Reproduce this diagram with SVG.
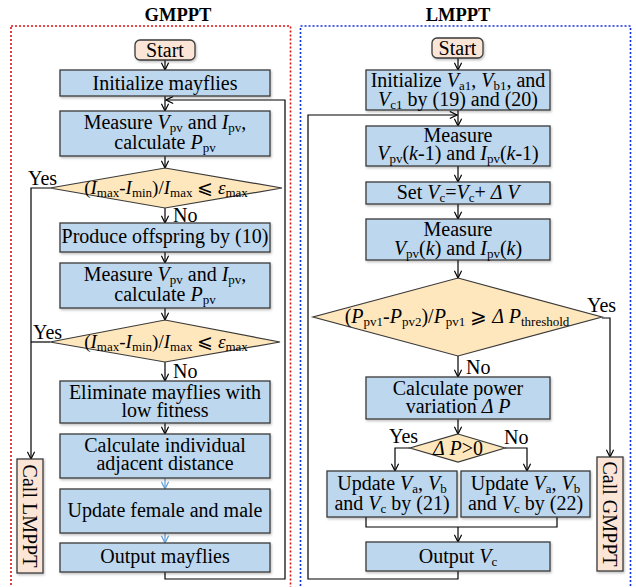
<svg xmlns="http://www.w3.org/2000/svg" width="636" height="587" viewBox="0 0 636 587">
<defs>
<marker id="arr" viewBox="0 0 10 10" refX="9" refY="5" markerWidth="9" markerHeight="9" markerUnits="userSpaceOnUse" orient="auto">
<path d="M1,1 L9,5 L1,9" fill="none" stroke="#000" stroke-width="1.3"/>
</marker>
<marker id="arrb" viewBox="0 0 10 10" refX="9" refY="5" markerWidth="9" markerHeight="9" markerUnits="userSpaceOnUse" orient="auto">
<path d="M1,1 L9,5 L1,9" fill="none" stroke="#5b9bd5" stroke-width="1.3"/>
</marker>
<filter id="sh" x="-10%" y="-10%" width="120%" height="130%">
<feDropShadow dx="1" dy="1.5" stdDeviation="1" flood-color="#000" flood-opacity="0.25"/>
</filter>
</defs>
<style>
text{font-family:"Liberation Serif","Times New Roman",serif;font-size:20px;fill:#000}
.c{text-anchor:middle}
.t{font-weight:bold;font-size:18.5px}
.box{fill:#bdd7ee;stroke:#3a3a3a;stroke-width:1.3;filter:url(#sh)}
.dia{fill:#ffe7bd;stroke:#3a3a3a;stroke-width:1.2}
.pe{fill:#fbe5d6;stroke:#3a3a3a;stroke-width:1.3;filter:url(#sh)}
.ln{fill:none;stroke:#000;stroke-width:1.2}
.lb{fill:none;stroke:#5b9bd5;stroke-width:1.2}
.i{font-style:italic}
.s{font-size:13px}
.sm{font-size:19px}
</style>

<rect x="11" y="26" width="279.5" height="580" fill="none" stroke="#e01010" stroke-width="1.6" stroke-dasharray="2,2"/>
<rect x="300.5" y="26" width="330" height="580" fill="none" stroke="#1030e0" stroke-width="1.6" stroke-dasharray="2,2"/>
<text class="c t" x="178" y="21">GMPPT</text>
<text class="c t" x="458" y="21">LMPPT</text>

<g id="connectors">
<path class="ln" d="M165,60 V70" marker-end="url(#arr)"/>
<path class="ln" d="M165,96 V111" marker-end="url(#arr)"/>
<path class="ln" d="M165,572 V579 H285 V100 H166" marker-end="url(#arr)"/>
<path class="ln" d="M165,156 V168" marker-end="url(#arr)"/>
<path class="ln" d="M50,188 H31 V459" marker-end="url(#arr)"/>
<path class="ln" d="M50,342 H31"/>
<path class="ln" d="M165,208 V223" marker-end="url(#arr)"/>
<path class="ln" d="M165,252 V263" marker-end="url(#arr)"/>
<path class="ln" d="M165,308 V320" marker-end="url(#arr)"/>
<path class="ln" d="M165,362 V381" marker-end="url(#arr)"/>
<path class="ln" d="M165,423 V434" marker-end="url(#arr)"/>
<path class="lb" d="M165,478 V489" marker-end="url(#arrb)"/>
<path class="lb" d="M165,533 V543" marker-end="url(#arrb)"/>

<path class="ln" d="M458,58 V70" marker-end="url(#arr)"/>
<path class="ln" d="M458,110 V126" marker-end="url(#arr)"/>
<path class="ln" d="M458,571 V579 H308 V115 H457" marker-end="url(#arr)"/>
<path class="ln" d="M458,166 V182" marker-end="url(#arr)"/>
<path class="ln" d="M458,204 V219" marker-end="url(#arr)"/>
<path class="ln" d="M458,260 V278" marker-end="url(#arr)"/>
<path class="ln" d="M602,318 H610 V457" marker-end="url(#arr)"/>
<path class="ln" d="M458,356 V377" marker-end="url(#arr)"/>
<path class="ln" d="M458,419 V434" marker-end="url(#arr)"/>
<path class="ln" d="M410,448 H395 V471" marker-end="url(#arr)"/>
<path class="ln" d="M505,448 H527 V471" marker-end="url(#arr)"/>
<path class="ln" d="M366,517 V527 H557 V517"/>
<path class="ln" d="M458,527 V542" marker-end="url(#arr)"/>

<text x="28" y="185">Yes</text>
<text x="173" y="222">No</text>
<text x="33" y="339">Yes</text>
<text x="173" y="378">No</text>
<text x="587" y="312">Yes</text>
<text x="466" y="374">No</text>
<text x="389" y="443">Yes</text>
<text x="504" y="444">No</text>
</g>

<g id="g-start">
<rect class="pe" x="135" y="40" width="60" height="20" rx="5"/>
<text class="c" x="165" y="57">Start</text>
</g>
<g id="g-init">
<rect class="box" x="60" y="70" width="210" height="26"/>
<text class="c" x="165" y="90">Initialize mayflies</text>
</g>
<g id="g-measure1">
<rect class="box" x="60" y="111" width="210" height="45"/>
<text class="c" x="165" y="129">Measure <tspan class="i">V</tspan><tspan class="s" dy="3">pv</tspan><tspan dy="-3"> and </tspan><tspan class="i">I</tspan><tspan class="s" dy="3">pv</tspan><tspan dy="-3">,</tspan></text>
<text class="c" x="165" y="149">calculate <tspan class="i">P</tspan><tspan class="s" dy="3">pv</tspan></text>
</g>
<g id="g-dec1">
<polygon class="dia" points="165,168 282,188 165,208 50,188"/>
<text class="c sm" x="166" y="194">(<tspan class="i">I</tspan><tspan class="s" dy="3">max</tspan><tspan dy="-3">-</tspan><tspan class="i">I</tspan><tspan class="s" dy="3">min</tspan><tspan dy="-3">)/</tspan><tspan class="i">I</tspan><tspan class="s" dy="3">max</tspan><tspan dy="-3"> ⩽ </tspan><tspan class="i">ε</tspan><tspan class="s" dy="3">max</tspan></text>
</g>
<g id="g-offspring">
<rect class="box" x="60" y="223" width="210" height="29"/>
<text class="c" x="165" y="243">Produce offspring by (10)</text>
</g>
<g id="g-measure2">
<rect class="box" x="60" y="263" width="210" height="45"/>
<text class="c" x="165" y="281">Measure <tspan class="i">V</tspan><tspan class="s" dy="3">pv</tspan><tspan dy="-3"> and </tspan><tspan class="i">I</tspan><tspan class="s" dy="3">pv</tspan><tspan dy="-3">,</tspan></text>
<text class="c" x="165" y="301">calculate <tspan class="i">P</tspan><tspan class="s" dy="3">pv</tspan></text>
</g>
<g id="g-dec2">
<polygon class="dia" points="165,320 280,342 165,362 50,342"/>
<text class="c sm" x="166" y="348">(<tspan class="i">I</tspan><tspan class="s" dy="3">max</tspan><tspan dy="-3">-</tspan><tspan class="i">I</tspan><tspan class="s" dy="3">min</tspan><tspan dy="-3">)/</tspan><tspan class="i">I</tspan><tspan class="s" dy="3">max</tspan><tspan dy="-3"> ⩽ </tspan><tspan class="i">ε</tspan><tspan class="s" dy="3">max</tspan></text>
</g>
<g id="g-eliminate">
<rect class="box" x="60" y="381" width="210" height="42"/>
<text class="c" x="165" y="399">Eliminate mayflies with</text>
<text class="c" x="165" y="417">low fitness</text>
</g>
<g id="g-distance">
<rect class="box" x="60" y="434" width="210" height="44"/>
<text class="c" x="165" y="452">Calculate individual</text>
<text class="c" x="165" y="470">adjacent distance</text>
</g>
<g id="g-update">
<rect class="box" x="60" y="489" width="210" height="44"/>
<text class="c" x="165" y="517">Update female and male</text>
</g>
<g id="g-output">
<rect class="box" x="60" y="543" width="210" height="29"/>
<text class="c" x="165" y="563">Output mayflies</text>
</g>
<g id="g-calllmppt">
<rect class="pe" x="17" y="459" width="26" height="114"/>
<text class="c" transform="translate(23,516) rotate(90)" x="0" y="0">Call LMPPT</text>
</g>

<g id="l-start">
<rect class="pe" x="432" y="38" width="51" height="20" rx="5"/>
<text class="c" x="457.5" y="55">Start</text>
</g>
<g id="l-init">
<rect class="box" x="366" y="70" width="184" height="40"/>
<text class="c" x="458" y="87">Initialize <tspan class="i">V</tspan><tspan class="s" dy="3">a1</tspan><tspan dy="-3">, </tspan><tspan class="i">V</tspan><tspan class="s" dy="3">b1</tspan><tspan dy="-3">, and</tspan></text>
<text class="c" x="458" y="106"><tspan class="i">V</tspan><tspan class="s" dy="3">c1</tspan><tspan dy="-3"> by (19) and (20)</tspan></text>
</g>
<g id="l-measure1">
<rect class="box" x="366" y="126" width="184" height="40"/>
<text class="c" x="458" y="142">Measure</text>
<text class="c" x="458" y="160"><tspan class="i">V</tspan><tspan class="s" dy="3">pv</tspan><tspan dy="-3">(</tspan><tspan class="i">k</tspan><tspan>-1) and </tspan><tspan class="i">I</tspan><tspan class="s" dy="3">pv</tspan><tspan dy="-3">(</tspan><tspan class="i">k</tspan><tspan>-1)</tspan></text>
</g>
<g id="l-set">
<rect class="box" x="366" y="182" width="184" height="22"/>
<text class="c" x="458" y="199">Set <tspan class="i">V</tspan><tspan class="s" dy="3">c</tspan><tspan dy="-3">=</tspan><tspan class="i">V</tspan><tspan class="s" dy="3">c</tspan><tspan dy="-3">+ </tspan><tspan class="i">Δ V</tspan></text>
</g>
<g id="l-measure2">
<rect class="box" x="366" y="219" width="184" height="41"/>
<text class="c" x="458" y="236">Measure</text>
<text class="c" x="458" y="255"><tspan class="i">V</tspan><tspan class="s" dy="3">pv</tspan><tspan dy="-3">(</tspan><tspan class="i">k</tspan><tspan>) and </tspan><tspan class="i">I</tspan><tspan class="s" dy="3">pv</tspan><tspan dy="-3">(</tspan><tspan class="i">k</tspan><tspan>)</tspan></text>
</g>
<g id="l-dec1">
<polygon class="dia" points="458,278 602,317 458,356 313,317"/>
<text class="c" x="457" y="323">(<tspan class="i">P</tspan><tspan class="s" dy="3">pv1</tspan><tspan dy="-3">-</tspan><tspan class="i">P</tspan><tspan class="s" dy="3">pv2</tspan><tspan dy="-3">)/</tspan><tspan class="i">P</tspan><tspan class="s" dy="3">pv1</tspan><tspan dy="-3"> ⩾ </tspan><tspan class="i">Δ P</tspan><tspan class="s" dy="3">threshold</tspan></text>
</g>
<g id="l-calc">
<rect class="box" x="366" y="377" width="184" height="42"/>
<text class="c" x="458" y="395">Calculate power</text>
<text class="c" x="458" y="413">variation  <tspan class="i">Δ P</tspan></text>
</g>
<g id="l-dec2">
<polygon class="dia" points="458,434 505,448 458,462 410,448"/>
<text class="c" x="458" y="455"><tspan class="i">Δ P</tspan>&gt;0</text>
</g>
<g id="l-update21">
<rect class="box" x="327" y="471" width="130" height="46"/>
<text class="c" x="392" y="490">Update <tspan class="i">V</tspan><tspan class="s" dy="3">a</tspan><tspan dy="-3">, </tspan><tspan class="i">V</tspan><tspan class="s" dy="3">b</tspan></text>
<text class="c" x="392" y="510">and <tspan class="i">V</tspan><tspan class="s" dy="3">c</tspan><tspan dy="-3"> by (21)</tspan></text>
</g>
<g id="l-update22">
<rect class="box" x="461" y="471" width="129" height="46"/>
<text class="c" x="525.5" y="490">Update <tspan class="i">V</tspan><tspan class="s" dy="3">a</tspan><tspan dy="-3">, </tspan><tspan class="i">V</tspan><tspan class="s" dy="3">b</tspan></text>
<text class="c" x="525.5" y="510">and <tspan class="i">V</tspan><tspan class="s" dy="3">c</tspan><tspan dy="-3"> by (22)</tspan></text>
</g>
<g id="l-output">
<rect class="box" x="366" y="542" width="184" height="29"/>
<text class="c" x="458" y="563">Output <tspan class="i">V</tspan><tspan class="s" dy="3">c</tspan></text>
</g>
<g id="l-callgmppt">
<rect class="pe" x="597" y="457" width="26" height="114"/>
<text class="c" transform="translate(603,514) rotate(90)" x="0" y="0">Call GMPPT</text>
</g>
</svg>
